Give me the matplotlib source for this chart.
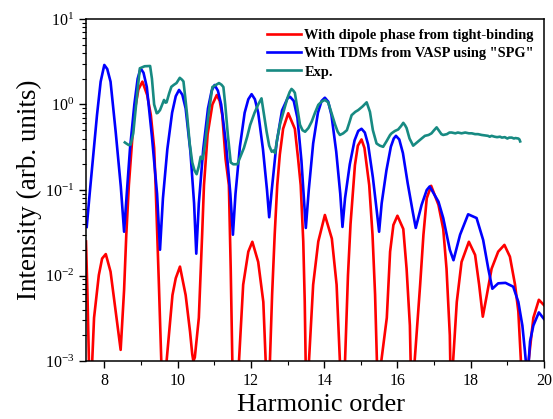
import numpy as np
import matplotlib
matplotlib.use('Agg')
import matplotlib.pyplot as plt
from matplotlib.ticker import LogLocator, MultipleLocator, NullFormatter

plt.rcParams['font.family'] = 'serif'
plt.rcParams['font.serif'] = ['Liberation Serif', 'DejaVu Serif']
plt.rcParams['mathtext.fontset'] = 'stix'

# red: dipole phase from tight-binding
tb_x = [7.5, 7.54, 7.58, 7.625, 7.67, 7.72, 7.85, 7.94, 8.04, 8.17, 8.31, 8.446,
        8.54, 8.6, 8.67, 8.81, 8.93, 9.04, 9.17, 9.27, 9.36, 9.40, 9.49, 9.555, 9.63,
        9.70, 9.86, 9.95, 10.065, 10.22, 10.34, 10.40, 10.43, 10.47,
        10.58, 10.67, 10.72, 10.82, 10.95, 11.07, 11.15, 11.22, 11.31, 11.40, 11.45,
        11.494, 11.58, 11.676, 11.79, 11.93, 12.04, 12.20, 12.34, 12.404, 12.46, 12.52,
        12.58, 12.65, 12.72, 12.79, 12.88, 13.02, 13.2, 13.29, 13.36, 13.43, 13.47,
        13.495, 13.54, 13.586, 13.70, 13.84, 14.02, 14.21, 14.34, 14.43, 14.5, 14.57,
        14.65, 14.72, 14.8, 14.84, 14.92, 15.02, 15.1, 15.16, 15.23, 15.32, 15.39,
        15.44, 15.5, 15.56, 15.71, 15.80, 15.89, 16.0, 16.16, 16.25, 16.34, 16.36,
        16.41, 16.47, 16.62, 16.71, 16.80, 16.92, 17.12, 17.25, 17.34, 17.43, 17.47,
        17.52, 17.62, 17.75, 17.95, 18.12, 18.23, 18.33, 18.44, 18.57, 18.75, 18.92,
        19.07, 19.21, 19.30, 19.37, 19.47, 19.58, 19.71, 19.86, 20.0]
tb_y = [0.025, 0.006, 0.001, 0.0002, 0.001, 0.0032, 0.0101, 0.0158, 0.0178, 0.0111, 0.0038, 0.00135,
        0.0068, 0.03, 0.114, 0.75, 1.5, 1.85, 1.29, 0.75, 0.31, 0.114, 0.0078, 0.001, 0.0002,
        0.001, 0.0059, 0.0093, 0.0127, 0.0059, 0.0022, 0.0012, 0.001, 0.0011,
        0.0032, 0.03, 0.114, 0.45, 1.0, 1.29, 1.1, 0.75, 0.23, 0.114, 0.012,
        0.001, 0.0002, 0.001, 0.0078, 0.019, 0.0248, 0.0144, 0.0049, 0.001, 0.0002, 0.001,
        0.006, 0.03, 0.114, 0.26, 0.52, 0.79, 0.52, 0.23, 0.114, 0.025, 0.005,
        0.001, 0.0002, 0.001, 0.0078, 0.025, 0.051, 0.027, 0.0078, 0.001, 0.0002, 0.001,
        0.01, 0.04, 0.114, 0.195, 0.33, 0.39, 0.31, 0.195, 0.114, 0.03, 0.006,
        0.001, 0.0002, 0.001, 0.0032, 0.019, 0.039, 0.05, 0.035, 0.012, 0.0026, 0.001,
        0.0002, 0.001, 0.0078, 0.03, 0.08, 0.112, 0.067, 0.035, 0.012, 0.002, 0.0002,
        0.001, 0.0049, 0.0144, 0.0248, 0.0174, 0.0078, 0.0033, 0.0059, 0.012, 0.019, 0.0228,
        0.0166, 0.0078, 0.0038, 0.001, 0.0002, 0.001, 0.0032, 0.0052, 0.0045]

# blue: TDMs from VASP using "SPG"
vasp_x = [7.52, 7.6, 7.7, 7.8, 7.9, 8.0, 8.08, 8.17, 8.31, 8.45, 8.54,
          8.62, 8.7, 8.82, 8.91, 8.99, 9.07, 9.16, 9.3, 9.44, 9.52,
          9.6, 9.72, 9.85, 9.95, 10.04, 10.13, 10.22, 10.35, 10.45, 10.51,
          10.58, 10.7, 10.83, 10.93, 11.01, 11.1, 11.19, 11.32, 11.44, 11.51,
          11.58, 11.7, 11.83, 11.93, 12.02, 12.11, 12.2, 12.33, 12.44, 12.5,
          12.57, 12.7, 12.85, 13.0, 13.07, 13.17, 13.27, 13.38, 13.5,
          13.58, 13.7, 13.83, 13.93, 14.02, 14.11, 14.2, 14.33, 14.44, 14.5,
          14.57, 14.7, 14.83, 14.93, 15.02, 15.11, 15.2, 15.33, 15.44, 15.5,
          15.57, 15.7, 15.82, 15.9, 15.96, 16.05, 16.15, 16.28, 16.42, 16.5,
          16.66, 16.8, 16.88, 17.12, 17.25, 17.43, 17.53,
          17.71, 17.93, 18.16, 18.34, 18.48, 18.59, 18.75, 18.95, 19.16, 19.30,
          19.41, 19.48, 19.55, 19.62, 19.71, 19.86, 20.0]
vasp_y = [0.037, 0.09, 0.26, 0.75, 1.85, 2.9, 2.6, 1.85, 0.48, 0.11, 0.0325,
          0.10, 0.3, 1.0, 2.0, 2.65, 2.35, 1.6, 0.42, 0.09, 0.020,
          0.08, 0.3, 0.8, 1.25, 1.48, 1.3, 0.9, 0.28, 0.07, 0.018,
          0.07, 0.3, 0.9, 1.45, 1.69, 1.45, 1.0, 0.35, 0.09, 0.030,
          0.09, 0.32, 0.8, 1.15, 1.32, 1.15, 0.8, 0.3, 0.1, 0.048,
          0.1, 0.35, 0.85, 1.18, 1.23, 1.1, 0.7, 0.22, 0.036,
          0.1, 0.35, 0.8, 1.1, 1.2, 1.08, 0.75, 0.28, 0.09, 0.037,
          0.08, 0.2, 0.38, 0.49, 0.52, 0.47, 0.34, 0.14, 0.055, 0.0325,
          0.07, 0.17, 0.32, 0.4, 0.43, 0.39, 0.27, 0.12, 0.055, 0.036,
          0.067, 0.1, 0.11, 0.073, 0.047, 0.02, 0.0151,
          0.030, 0.052, 0.047, 0.026, 0.012, 0.007, 0.0081, 0.0082, 0.0074, 0.0049,
          0.0026, 0.0013, 0.0006, 0.0017, 0.0026, 0.0037, 0.0031]

# teal: experiment
exp_x = [8.56, 8.6, 8.67, 8.72, 8.79, 8.88, 8.97, 9.1, 9.25, 9.3, 9.36, 9.43, 9.46, 9.52,
         9.58, 9.63, 9.67, 9.70, 9.77, 9.83, 9.9, 9.97, 10.06, 10.12, 10.16, 10.21, 10.26,
         10.33, 10.40, 10.46, 10.52, 10.58, 10.63, 10.69, 10.75, 10.85, 10.95, 11.05, 11.13,
         11.2, 11.25, 11.3, 11.37, 11.45, 11.52, 11.6, 11.63, 11.72, 11.81, 11.9, 11.98,
         12.1, 12.2, 12.29, 12.35, 12.43, 12.5, 12.57, 12.62, 12.66, 12.72, 12.8, 12.89,
         13.0, 13.06, 13.11, 13.16, 13.2, 13.27, 13.34, 13.41, 13.48, 13.57, 13.66, 13.75,
         13.84, 13.93, 14.02, 14.11, 14.2, 14.3, 14.37, 14.43, 14.52, 14.62, 14.68, 14.75,
         14.85, 14.93, 15.05, 15.16, 15.25, 15.33, 15.43, 15.52, 15.61, 15.7, 15.8, 15.84,
         15.93, 16.02, 16.1, 16.16, 16.21, 16.25, 16.33, 16.43, 16.5, 16.57, 16.66, 16.75,
         16.85, 16.93, 17.0, 17.07, 17.14, 17.2, 17.25, 17.35, 17.42, 17.48, 17.58, 17.65,
         17.75, 17.85, 17.95, 18.03, 18.12, 18.2, 18.3, 18.38, 18.47, 18.52, 18.57, 18.65,
         18.72, 18.8, 18.85, 18.93, 19.0, 19.05, 19.12, 19.18, 19.22, 19.3, 19.33, 19.35]
exp_y = [0.36, 0.35, 0.335, 0.34, 0.46, 1.13, 2.65, 2.8, 2.82, 2.0, 1.0, 0.79, 0.8, 0.86,
         1.0, 1.13, 1.05, 1.06, 1.35, 1.61, 1.7, 1.78, 2.05, 1.95, 1.86, 1.2, 0.75,
         0.35, 0.21, 0.17, 0.153, 0.19, 0.245, 0.23, 0.35, 0.8, 1.6, 1.7, 1.78,
         1.7, 1.6, 1.0, 0.45, 0.21, 0.20, 0.20, 0.20, 0.25, 0.31, 0.42, 0.575,
         0.8, 1.0, 1.18, 0.8, 0.48, 0.33, 0.28, 0.29, 0.27, 0.4, 0.6, 0.82,
         1.2, 1.4, 1.52, 1.45, 1.37, 0.9, 0.58, 0.5, 0.48, 0.53, 0.63, 0.8,
         0.99, 1.08, 1.13, 1.06, 0.8, 0.58, 0.48, 0.44, 0.46, 0.5, 0.6, 0.75,
         0.82, 0.86, 0.95, 1.06, 0.82, 0.5, 0.35, 0.33, 0.32, 0.37, 0.44, 0.46,
         0.49, 0.51, 0.56, 0.61, 0.57, 0.53, 0.4, 0.33, 0.35, 0.37, 0.40, 0.43,
         0.44, 0.46, 0.5, 0.54, 0.49, 0.45, 0.44, 0.45, 0.47, 0.47, 0.46, 0.47,
         0.46, 0.47, 0.46, 0.46, 0.45, 0.45, 0.44, 0.435, 0.43, 0.42, 0.43, 0.42,
         0.415, 0.42, 0.41, 0.415, 0.40, 0.41, 0.41, 0.40, 0.405, 0.40, 0.39, 0.37]

labels = ['With dipole phase from tight-binding',
          'With TDMs from VASP using "SPG"',
          'Exp.']

fig = plt.figure(figsize=(5.53, 4.19), dpi=100)
ax = fig.add_axes([0.1555, 0.1384, 0.8282, 0.8163])

ax.plot(tb_x, tb_y, color='#ff0000', lw=1.9, label=labels[0])
ax.plot(vasp_x, vasp_y, color='#0000ff', lw=1.9, label=labels[1])
ax.plot(exp_x, exp_y, color='#178a82', lw=1.9, label=labels[2])

ax.set_yscale('log')
ax.set_xlim(7.5, 20)
ax.set_ylim(1e-3, 10)

ax.xaxis.set_major_locator(MultipleLocator(2))
ax.xaxis.set_minor_locator(MultipleLocator(1))
ax.yaxis.set_major_locator(LogLocator(base=10))
ax.yaxis.set_minor_locator(LogLocator(base=10, subs=np.arange(2, 10)))
ax.yaxis.set_minor_formatter(NullFormatter())

ax.tick_params(which='both', direction='out', top=False, right=False, labelsize=11.5)
ax.tick_params(which='major', length=5, width=1)
ax.tick_params(which='minor', length=3, width=0.8)
for s in ax.spines.values():
    s.set_linewidth(1.1)

ax.set_xlabel('Harmonic order', fontsize=19, labelpad=6)
ax.xaxis.set_label_coords(0.513, -0.095)
ax.set_ylabel('Intensity (arb. units)', fontsize=19.5, labelpad=2)

ax.legend(loc='upper right', frameon=False, prop={'weight': 'bold', 'size': 10.4},
          handlelength=2.4, handletextpad=0.2, labelspacing=0.35,
          borderaxespad=0.3)

fig.savefig('out.png', dpi=100)
